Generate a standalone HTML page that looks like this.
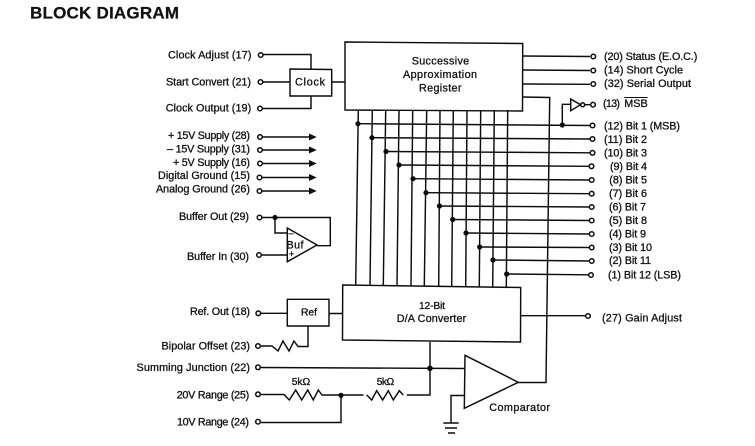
<!DOCTYPE html>
<html><head><meta charset="utf-8"><title>Block Diagram</title>
<style>
html,body{margin:0;padding:0;background:#fff;width:755px;height:446px;overflow:hidden}
svg{display:block;filter:blur(.3px)}
text{font-family:"Liberation Sans",sans-serif;font-size:10.8px;fill:#111;stroke:#111;stroke-width:.3}
.l{fill:none;stroke:#0c0c0c;stroke-width:1.45}
.c{fill:#fff;stroke:#0c0c0c;stroke-width:1.5}
.d{fill:#0c0c0c;stroke:none}
</style></head><body>
<svg width="755" height="446" viewBox="0 0 755 446" xmlns="http://www.w3.org/2000/svg">
<text x="30" y="18.5" textLength="149" style="font-size:17px;font-weight:bold;stroke-width:.25">BLOCK DIAGRAM</text>

<!-- boxes -->
<path class="l" d="M345 42L522.7 43.5L522.5 111L345 110Z"/>
<path class="l" d="M342.7 285L520.7 287.5L520.5 342L342.5 340Z"/>
<path class="l" d="M290 69L331.7 69.5V96H290Z"/>
<path class="l" d="M287.3 299.3H329V326H287.3Z"/>

<!-- vertical bus -->
<path class="l" d="M358.3 110L355.7 285M372.3 110L370 285.5M385.7 110L383.3 285.5M399 110L397 286M412.7 110L411 286M426.7 110L424.3 286M440 110L438.7 286.5M453.3 110L451.7 286.5M467 110L465.7 287M480.7 110L479.3 287M494.3 110L492.7 287M507.7 110L506.3 287.5"/>

<!-- horizontal bits -->
<path class="l" d="M358 123.7L590 125.5M372 137.7L590 139M386 151.5L590 152.8M399 165L589 166.3M413 178.7L589 180M426 192.7L589 193.7M439.5 206L589 207M452.7 219.5L589 220.5M466 233L589 234M479.7 247L589 247.5M493 260L589 261M506.7 274L589 274.8"/>
<g class="d">
<circle cx="358" cy="123.7" r="2.6"/><circle cx="372" cy="137.7" r="2.6"/><circle cx="386" cy="151.5" r="2.6"/><circle cx="399" cy="165" r="2.6"/><circle cx="413" cy="178.7" r="2.6"/><circle cx="426" cy="192.7" r="2.6"/><circle cx="439.5" cy="206" r="2.6"/><circle cx="452.7" cy="219.5" r="2.6"/><circle cx="466" cy="233" r="2.6"/><circle cx="479.7" cy="247" r="2.6"/><circle cx="493" cy="260" r="2.6"/><circle cx="506.7" cy="274" r="2.6"/>
<circle cx="562.3" cy="125" r="2.6"/><circle cx="275" cy="217.5" r="2.6"/><circle cx="430" cy="368.3" r="2.8"/><circle cx="341" cy="395.3" r="2.6"/>
</g>

<!-- right outputs -->
<path class="l" d="M522.5 56L590 56.5M522.5 70L590 70.5M522.5 84L590 84.3M522.5 97L549.7 97.5L546 382.5H518.3"/>
<path class="l" d="M521 315.7H585"/>
<!-- inverter -->
<path class="l" d="M562.3 125V104.3H570.7M570.7 99L580.5 104.7L570.7 110.7ZM585 104.7H590"/>
<circle class="c" cx="582.7" cy="104.7" r="2"/>

<!-- clock wires -->
<path class="l" d="M263 54.5H311V69M263 82H290M332 82H345M263 108.5H311V96"/>
<!-- supply arrows -->
<path class="l" d="M262.5 137H311M262.5 150H311M262.5 163.5H311M262 177.5H311M262 191H311"/>
<g class="d">
<path d="M309 133.5L316.7 137L309 140.5Z"/><path d="M309 146.5L316.7 150L309 153.5Z"/><path d="M309 160L316.7 163.5L309 167Z"/><path d="M309 174L316.7 177.5L309 181Z"/><path d="M309 187.5L316.7 191L309 194.5Z"/>
</g>
<!-- buffer -->
<path class="l" d="M262 217.5H330.3V245.7H317M275 217.5V233H287.3M261.5 255H287.3"/>
<path class="l" d="M287.3 228L317 245L287.3 261.7Z"/>
<text x="288.5" y="236" style="font-size:9px">–</text>
<text x="286.5" y="248.5" textLength="17">Buf</text>
<text x="289" y="257" style="font-size:9px">+</text>
<!-- ref -->
<path class="l" d="M261 313.3H287.3M329 313.5H343M261 346H272L278 351L283 341L289 351L294 341L298 346.5H308V326"/>
<!-- summing / ranges -->
<path class="l" d="M261 367.5L465 368.5"/>
<path class="l" d="M261 394.5H284L289.3 400L295.7 390L301.7 400L307.7 390L313.3 400L318.3 390L322 395H363.5M366.7 395L371.7 400L376.7 390.7L382.7 400L388.3 390.7L393.3 400L399.3 390.7L403.3 395M406.7 395H430V342M341 395.3V422.5H261"/>
<!-- comparator -->
<path class="l" d="M465 355.3L518.3 382.3L464.3 408.3Z"/>
<path class="l" d="M464 395.5H451V423M443.3 423H458.7M445 428H457M448 433H455"/>

<!-- terminals -->
<g class="c">
<circle cx="260.7" cy="55" r="2.3"/><circle cx="260.5" cy="82" r="2.3"/><circle cx="260" cy="108.5" r="2.3"/>
<circle cx="260" cy="137" r="2.3"/><circle cx="260" cy="150" r="2.3"/><circle cx="260" cy="163.5" r="2.3"/><circle cx="259.5" cy="177.5" r="2.3"/><circle cx="259.5" cy="191" r="2.3"/>
<circle cx="259.5" cy="217.5" r="2.3"/><circle cx="259" cy="255" r="2.3"/>
<circle cx="258.3" cy="313.3" r="2.3"/><circle cx="258" cy="346" r="2.3"/><circle cx="258" cy="367.3" r="2.3"/><circle cx="258" cy="394.3" r="2.3"/><circle cx="258" cy="421.7" r="2.3"/>
<circle cx="593.3" cy="56.5" r="2.3"/><circle cx="593.3" cy="70.5" r="2.3"/><circle cx="593.3" cy="84" r="2.3"/><circle cx="593" cy="104.7" r="2.3"/>
<circle cx="592.5" cy="125.5" r="2.3"/><circle cx="592.5" cy="139" r="2.3"/><circle cx="592.5" cy="152.8" r="2.3"/><circle cx="591.5" cy="166.3" r="2.3"/>
<circle cx="591.7" cy="180" r="2.3"/><circle cx="591.7" cy="193.7" r="2.3"/><circle cx="591.7" cy="207" r="2.3"/><circle cx="591.7" cy="220.5" r="2.3"/><circle cx="591.7" cy="234" r="2.3"/><circle cx="591.7" cy="247.5" r="2.3"/><circle cx="591.7" cy="261" r="2.3"/><circle cx="591" cy="275" r="2.3"/>
<circle cx="588" cy="316" r="2.3"/>
</g>

<!-- left labels -->
<text x="168" y="58.5" textLength="83.5">Clock Adjust (17)</text>
<text x="166" y="85.3" textLength="85">Start Convert (21)</text>
<text x="165.7" y="111.7" textLength="85.5">Clock Output (19)</text>
<text x="168" y="139.2" textLength="82">+ 15V Supply (28)</text>
<text x="167" y="152.5" textLength="83">– 15V Supply (31)</text>
<text x="173" y="166" textLength="77">+ 5V Supply (16)</text>
<text x="158" y="179.2" textLength="92">Digital Ground (15)</text>
<text x="156" y="192.6" textLength="94">Analog Ground (26)</text>
<text x="179" y="220.2" textLength="70">Buffer Out (29)</text>
<text x="187" y="260.2" textLength="62">Buffer In (30)</text>
<text x="190" y="315.2" textLength="60">Ref. Out (18)</text>
<text x="161.5" y="349.5" textLength="88.5">Bipolar Offset (23)</text>
<text x="136.5" y="371" textLength="113.5">Summing Junction (22)</text>
<text x="176.7" y="398.5" textLength="72.5">20V Range (25)</text>
<text x="177" y="425.5" textLength="72">10V Range (24)</text>

<!-- box labels -->
<text x="411.7" y="64.5" textLength="57.5">Successive</text>
<text x="403" y="78" textLength="74">Approximation</text>
<text x="419" y="91.3" textLength="42.5">Register</text>
<text x="295" y="85.3" textLength="30">Clock</text>
<text x="301" y="315.5" textLength="16" style="font-size:10.3px">Ref</text>
<text x="419" y="309" textLength="26" style="font-size:10.3px">12-Bit</text>
<text x="396.7" y="322" textLength="69.5">D/A Converter</text>
<text x="489.3" y="411" textLength="60.7">Comparator</text>
<text x="291.7" y="385" textLength="18.5" style="font-size:10.3px">5kΩ</text>
<text x="376.7" y="385" textLength="17.5" style="font-size:10.3px">5kΩ</text>

<!-- right labels -->
<text x="604" y="59.8" textLength="93.3">(20) Status (E.O.C.)</text>
<text x="604" y="73.5" textLength="79">(14) Short Cycle</text>
<text x="604" y="87" textLength="87">(32) Serial Output</text>
<text x="603" y="107" textLength="17">(13)</text>
<text x="624.3" y="107" textLength="23.4">MSB</text>
<path class="l" d="M624.3 97.5H647.7" style="stroke-width:1"/>
<text x="604" y="129.5" textLength="76">(12) Bit 1 (MSB)</text>
<text x="604" y="143" textLength="43">(11) Bit 2</text>
<text x="604" y="156.5" textLength="43">(10) Bit 3</text>
<text x="610" y="170" textLength="37">(9) Bit 4</text>
<text x="609.3" y="183.5" textLength="37.7">(8) Bit 5</text>
<text x="609" y="197" textLength="38">(7) Bit 6</text>
<text x="609" y="210.5" textLength="37">(6) Bit 7</text>
<text x="609" y="224" textLength="38">(5) Bit 8</text>
<text x="609" y="237.5" textLength="37">(4) Bit 9</text>
<text x="609" y="251" textLength="43">(3) Bit 10</text>
<text x="609" y="264" textLength="42">(2) Bit 11</text>
<text x="608" y="278.5" textLength="73">(1) Bit 12 (LSB)</text>
<text x="602" y="321.5" textLength="80">(27) Gain Adjust</text>
</svg>
</body></html>
